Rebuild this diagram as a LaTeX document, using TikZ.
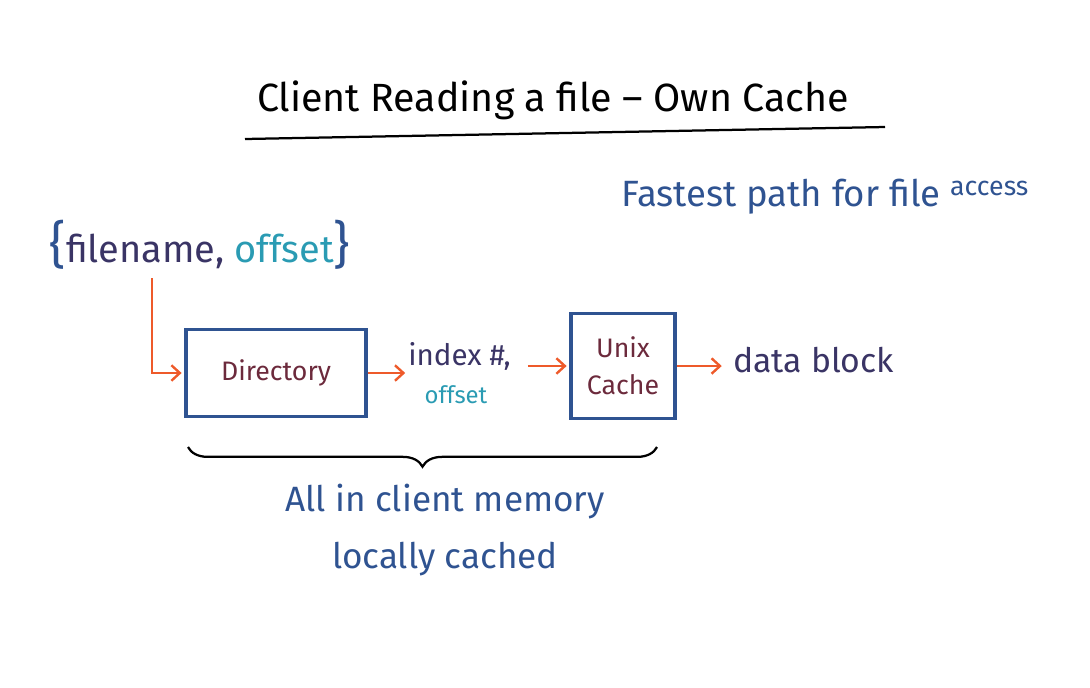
\documentclass[tikz,border=0pt]{standalone}
\usepackage{fontspec}
\setmainfont{Fira Sans}
\usetikzlibrary{arrows.meta, positioning, decorations.pathreplacing}
\definecolor{inkblue}{HTML}{2F5391}
\definecolor{inkdark}{HTML}{3A3465}
\definecolor{inkteal}{HTML}{2A9BB3}
\definecolor{inkred}{HTML}{6C2A3C}
\definecolor{inkorange}{HTML}{EE5A2A}

\begin{document}
\begin{tikzpicture}[
    x=0.025cm, y=-0.025cm,
    block/.style={draw=inkblue, line width=2.2pt, align=center, text=inkred, font=\fontsize{19}{26}\selectfont, inner sep=0pt},
    flow/.style={draw=inkorange, line width=1.7pt, -{Straight Barb[length=6pt,width=11pt]}, shorten >=2pt},
    note/.style={text=inkblue, font=\fontsize{25}{41}\selectfont, align=center, inner sep=0pt},
    label/.style={text=inkdark, font=\fontsize{24}{28}\selectfont, inner sep=0pt}
  ]
  \useasboundingbox (0,0) rectangle (1090,687);

  % title
  \node[font=\fontsize{28}{30}\selectfont, inner sep=0pt] (title) at (553,100) {Client Reading a file -- Own Cache};
  \draw[line width=1.6pt] (245,139) -- (885,127);

  \node[note, font=\fontsize{26}{28}\selectfont] (fast) at (825,197) {Fastest path for file \raisebox{8pt}{\fontsize{19}{20}\selectfont access}};

  % request
  \node[label, font=\fontsize{27}{30}\selectfont] (req) at (200,245) {{\color{inkblue}\fontsize{36}{36}\selectfont\{}filename, {\color{inkteal}offset}{\color{inkblue}\fontsize{36}{36}\selectfont\}}};
  \coordinate (reqfoot) at (152,278);

  % blocks
  \node[block, minimum width=4.5cm, minimum height=2.17cm] (dir) at (276,373) {Directory};
  \node[block, minimum width=2.6cm, minimum height=2.64cm] (unix) at (623,366) {Unix\\Cache};

  \node[label, font=\fontsize{21}{24}\selectfont, anchor=west] (idx) at (408,356) {index \#,};
  \node[text=inkteal, font=\fontsize{17}{18}\selectfont, inner sep=0pt] (off) at (456,395) {offset};
  \node[label, anchor=west] (data) at (733,360) {data block};

  % flow
  \draw[flow] (reqfoot) |- (dir.west);
  \draw[flow] (dir.east) -- (dir.east -| idx.west);
  \draw[flow, shorten <=12pt] (idx.east |- unix) -- (unix.west);
  \draw[flow, shorten >=8pt] (unix.east) -- (unix.east -| data.west);

  % memory brace
  \coordinate (bl) at (188,447);
  \coordinate (br) at (657,447);
  \draw[decorate, decoration={brace, mirror, amplitude=14pt}, line width=1.6pt] (bl) -- (br);
  \node[note] (mem) at (445,530) {All in client memory\\locally cached};
\end{tikzpicture}
\end{document}
